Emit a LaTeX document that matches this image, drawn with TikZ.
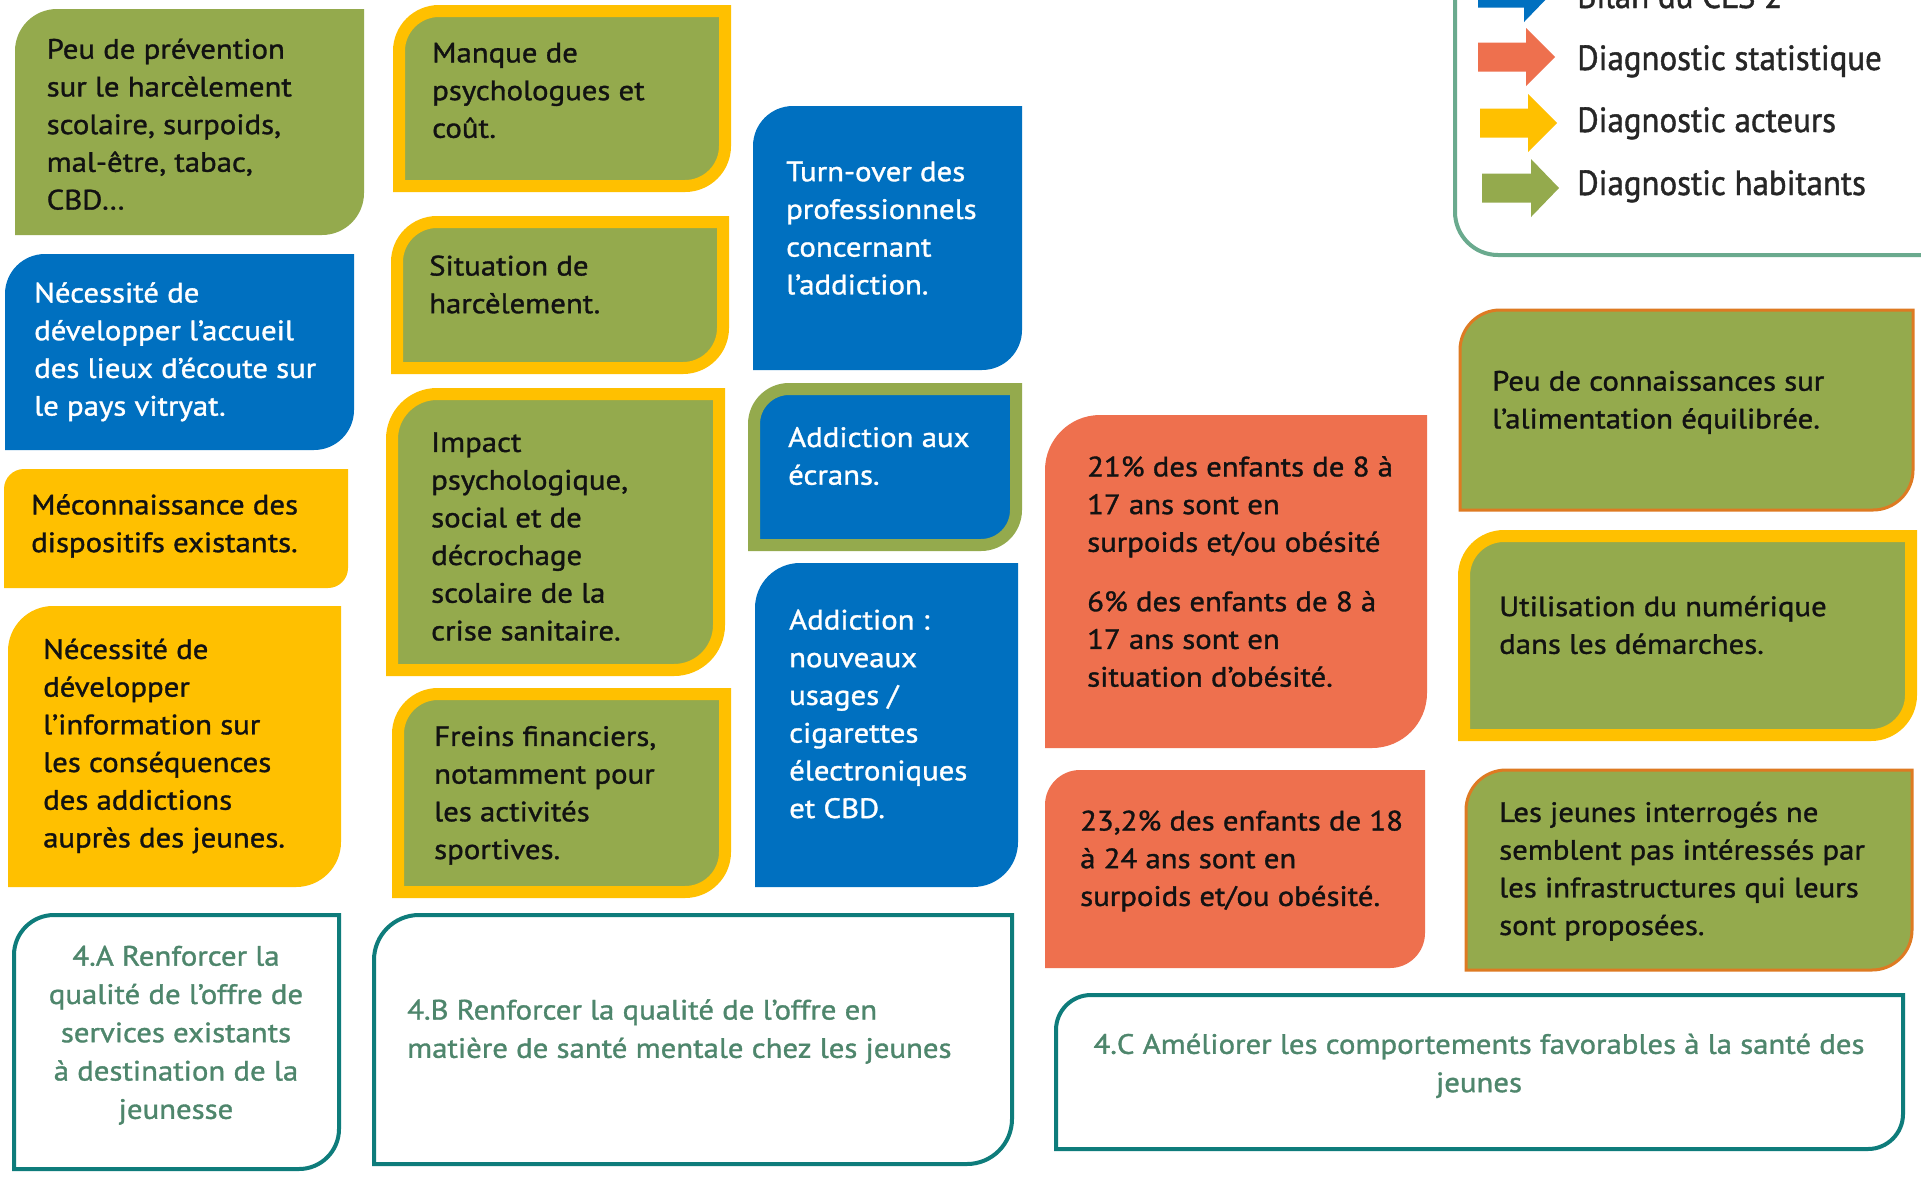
\documentclass[tikz,border=0pt]{standalone}
\usepackage{fontspec}
\setmainfont{PT Sans}[FakeStretch=1.1, FakeBold=1.2]
\newfontfamily\legfont{PT Sans}[FakeStretch=0.94, FakeBold=1.2]
\definecolor{cgreen}{RGB}{148,170,77}
\definecolor{cblue}{RGB}{0,112,192}
\definecolor{cyellow}{RGB}{255,192,0}
\definecolor{corange}{RGB}{238,112,78}
\definecolor{cborange}{RGB}{222,122,34}
\definecolor{cteal}{RGB}{14,124,123}
\definecolor{cobj}{RGB}{78,134,108}
\definecolor{clegend}{RGB}{106,170,142}
\newcommand{\boxfont}{\fontsize{28}{37.7}\selectfont}
\newcommand{\sq}{{\char"27}}
% #1 style, #2 x1, #3 y1, #4 x2, #5 y2 (pixel, y down), #6 radius
\newcommand{\dbox}[6]{\path[#1] (#2,-#5) -- (#2,{-(#3+#6)}) arc[start angle=180,end angle=90,radius=#6pt] -- (#4,-#3) -- (#4,{-(#5-#6)}) arc[start angle=0,end angle=-90,radius=#6pt] -- cycle;}
% legend arrow: #1 colour, #2 x left, #3 x head, #4 x tip, #5 y centre
\newcommand{\legarrow}[5]{\fill[#1] (#2,{-(#5-14.5)}) -- (#3,{-(#5-14.5)}) -- (#3,{-(#5-29)}) -- (#4,-#5) -- (#3,{-(#5+29)}) -- (#3,{-(#5+14.5)}) -- (#2,{-(#5+14.5)}) -- cycle;}
\tikzset{
  txt/.style={anchor=north west, inner sep=0pt, align=left, font=\boxfont, text=black!93},
  wtxt/.style={txt, text=white},
  otxt/.style={inner sep=0pt, font=\fontsize{28}{38.3}\selectfont, text=cobj},
  legtxt/.style={anchor=base west, inner sep=0pt, font=\legfont\fontsize{35}{40}\selectfont, text=black!85},
  plain/.style={fill=#1},
  ybord/.style={fill=#1, draw=cyellow, line width=12pt},
  gbord/.style={fill=#1, draw=cgreen, line width=12pt},
  obord/.style={fill=cgreen, draw=cborange, line width=3pt},
  objbox/.style={fill=white, draw=cteal, line width=4pt}
}
\begin{document}
\begin{tikzpicture}[x=1pt,y=1pt]
\path[use as bounding box] (0,0) rectangle (1921,-1176);
\clip (0,0) rectangle (1921,-1176);
\fill[white] (0,0) rectangle (1921,-1176);

% ---------- legend ----------
\draw[clegend, line width=4pt] (1455,20) -- (1455,-212) arc[start angle=180,end angle=270,radius=43pt] -- (1930,-255);
\legarrow{cblue}{1478}{1524}{1552}{-7}
\legarrow{corange}{1478}{1526}{1555}{57}
\legarrow{cyellow}{1480}{1528}{1557}{123}
\legarrow{cgreen}{1482}{1531}{1559}{188}
\node[legtxt] (l1) at (1577,-8) {Bilan du CLS 2};
\node[legtxt] (l2) at (1577,-70) {Diagnostic statistique};
\node[legtxt] (l3) at (1577,-132) {Diagnostic acteurs};
\node[legtxt] (l4) at (1577,-195) {Diagnostic habitants};

% ---------- column A ----------
\dbox{plain=cgreen}{15}{9}{364}{235}{42}
\node[txt] (a1) at (46.5,-32.1) {\strut Peu de prévention\\sur le harcèlement\\scolaire, surpoids,\\mal-être, tabac,\\CBD…};
\dbox{plain=cblue}{5}{254}{354}{450}{40}
\node[wtxt] (a2) at (34,-275.9) {\strut Nécessité de\\développer l’accueil\\des lieux d’écoute sur\\le pays vitryat.};
\dbox{plain=cyellow}{4}{469}{348}{588}{20}
\node[txt] (a3) at (31,-487.8) {\strut Méconnaissance des\\dispositifs existants.};
\dbox{plain=cyellow}{8}{606}{341}{887}{45}
\node[txt] (a4) at (43,-632.3) {\strut Nécessité de\\développer\\l’information sur\\les conséquences\\des addictions\\auprès des jeunes.};
\dbox{objbox}{14}{915}{339}{1169}{40}
\node[otxt, anchor=north, align=center] (oa) at (176,-938.6) {\strut 4.A Renforcer la\\qualité de l\sq offre de\\services existants\\à destination de la\\jeunesse};

% ---------- column B ----------
\dbox{ybord=cgreen}{399}{11}{725}{186}{40}
\node[txt] (b1) at (432,-35.8) {\strut Manque de\\psychologues et\\coût.};
\dbox{ybord=cgreen}{397}{222}{723}{368}{40}
\node[txt] (b2) at (429,-248.9) {\strut Situation de\\harcèlement.};
\dbox{ybord=cgreen}{392}{394}{719}{670}{45}
\node[txt] (b3) at (431,-425.3) {\strut Impact\\psychologique,\\social et de\\décrochage\\scolaire de la\\crise sanitaire.};
\dbox{ybord=cgreen}{398}{694}{725}{892}{40}
\node[txt] (b4) at (434,-719.3) {\strut Freins financiers,\\notamment pour\\les activités\\sportives.};
\dbox{objbox}{374}{915}{1012}{1164}{45}
\node[otxt, anchor=north west, align=left] (ob) at (407,-992.5) {\strut 4.B Renforcer la qualité de l\sq offre en\\matière de santé mentale chez les jeunes};

% ---------- column C ----------
\dbox{plain=cblue}{753}{106}{1022}{370}{40}
\node[wtxt] (c1) at (786,-154.6) {\strut Turn-over des\\professionnels\\concernant\\l’addiction.};
\dbox{gbord=cblue}{754}{389}{1016}{545}{35}
\node[wtxt] (c2) at (788,-420.4) {\strut Addiction aux\\écrans.};
\dbox{plain=cblue}{755}{563}{1018}{887}{45}
\node[wtxt] (c3) at (789,-602.9) {\strut Addiction :\\nouveaux\\usages /\\cigarettes\\électroniques\\et CBD.};

% ---------- column D ----------
\dbox{plain=corange}{1045}{415}{1427}{748}{55}
\node[txt] (d1) at (1087,-449.8) {\strut 21\% des enfants de 8 à\\17 ans sont en\\surpoids et/ou obésité};
\node[txt] (d1b) at (1087,-584.6) {\strut 6\% des enfants de 8 à\\17 ans sont en\\situation d’obésité.};
\dbox{plain=corange}{1045}{770}{1425}{968}{35}
\node[txt] (d2) at (1080,-803.9) {\strut 23,2\% des enfants de 18\\à 24 ans sont en\\surpoids et/ou obésité.};
\dbox{objbox}{1056}{995}{1903}{1149}{35}
\node[otxt, anchor=north, align=center] (oc) at (1479,-1026.8) {\strut 4.C Améliorer les comportements favorables à la santé des\\jeunes};

% ---------- column E ----------
\dbox{obord}{1460}{310}{1913}{510}{40}
\node[txt] (e1) at (1492,-364.1) {\strut Peu de connaissances sur\\l’alimentation équilibrée.};
\dbox{ybord=cgreen}{1464}{536}{1911}{735}{40}
\node[txt] (e2) at (1499,-589.5) {\strut Utilisation du numérique\\dans les démarches.};
\dbox{obord}{1466}{770}{1912}{970}{40}
\node[txt] (e3) at (1499,-795.3) {\strut Les jeunes interrogés ne\\semblent pas intéressés par\\les infrastructures qui leurs\\sont proposées.};
\end{tikzpicture}
\end{document}
